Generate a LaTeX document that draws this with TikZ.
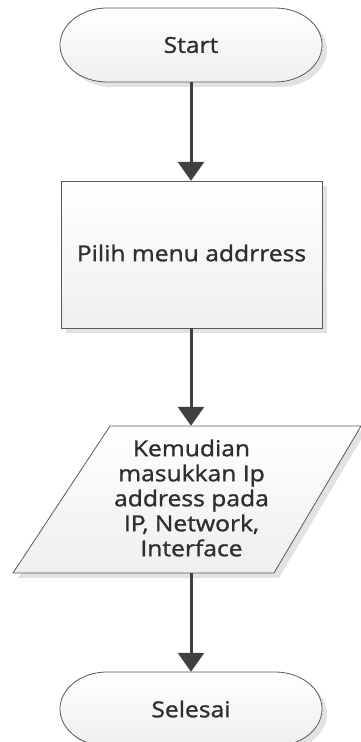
\documentclass[tikz,border=0pt]{standalone}
\usepackage{fontspec}
\setmainfont{Open Sans}[FakeStretch=1.12, FakeBold=1.2]
\usetikzlibrary{arrows.meta}
\definecolor{edgec}{HTML}{5A5A5A}
\definecolor{linkc}{HTML}{404040}
\definecolor{textc}{HTML}{2E2E2E}
\definecolor{shadowc}{HTML}{E2E2E2}
\definecolor{fillbot}{HTML}{EFEFEF}
\tikzset{
  outline/.style={draw=edgec, line width=0.8pt, top color=white, bottom color=fillbot},
  shade/.style={fill=shadowc},
  label/.style={text=textc, align=center, inner sep=0pt,
    font=\fontsize{22}{25}\selectfont},
  flow/.style={draw=linkc, line width=3pt,
    -{Triangle[length=19pt,width=26pt]}},
  pics/terminal/.style={code={
    \path[shade] (-79,32) -- (89,32)
      arc[start angle=90,end angle=-90,x radius=47,y radius=37]
      -- (-79,-42)
      arc[start angle=270,end angle=90,x radius=47,y radius=37] -- cycle;
    \path[outline] (-84,37) -- (84,37)
      arc[start angle=90,end angle=-90,x radius=47,y radius=37]
      -- (-84,-37)
      arc[start angle=270,end angle=90,x radius=47,y radius=37] -- cycle;
  }},
}
\begin{document}
\begin{tikzpicture}[x=1pt,y=1pt]
  \clip (0,0) rectangle (361,742);
  \useasboundingbox (0,0) rectangle (361,742);

  % start terminal
  \pic at (191,697) {terminal};
  \node[label, minimum width=262pt, minimum height=74pt] (start) at (191,697) {Start};

  % process box
  \path[shade] (66,556) rectangle (327,409);
  \path[outline] (61,561) rectangle (322,414);
  \node[label, minimum width=261pt, minimum height=147pt] (pilih) at (191,487.5) {};
  \node[label] at (191.5,489) {Pilih menu addrress};

  % input / output parallelogram
  \path[shade] (115,311) -- (366,311) -- (279,164) -- (18,164) -- cycle;
  \path[outline] (110,316) -- (361,316) -- (274,169) -- (13,169) -- cycle;
  \node[label, minimum width=150pt, minimum height=147pt] (input) at (191,242.5) {};
  \node[label] at (191.5,244) {Kemudian\\masukkan Ip\\address pada\\IP, Network,\\Interface};

  % end terminal
  \pic at (191,33) {terminal};
  \node[label, minimum width=262pt, minimum height=74pt] (selesai) at (191,33) {Selesai};

  % connectors
  \draw[flow] (start.south) -- (pilih.north);
  \draw[flow] (pilih.south) -- (input.north);
  \draw[flow] (input.south) -- (selesai.north);
\end{tikzpicture}
\end{document}
